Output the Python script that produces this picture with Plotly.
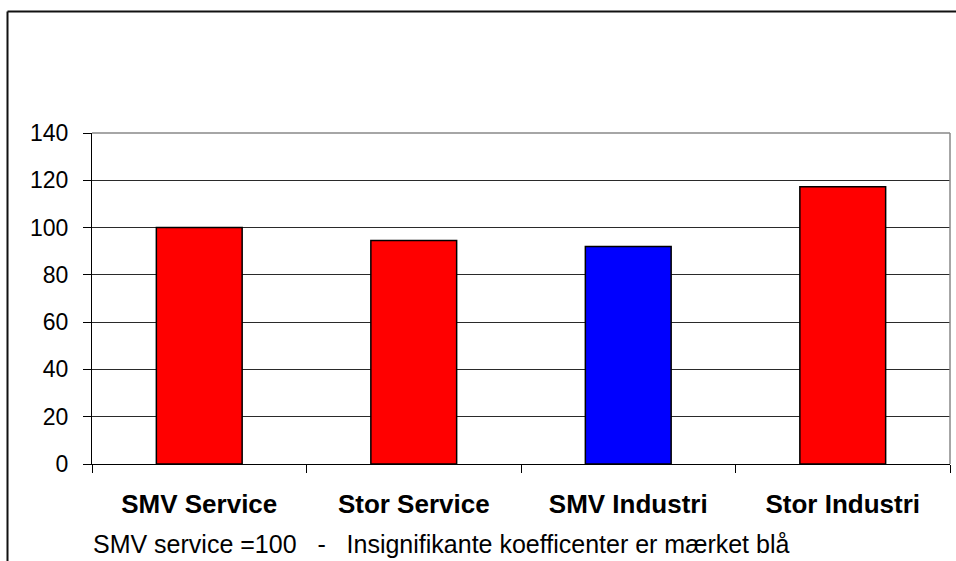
import plotly.graph_objects as go

# Index values per firm type (SMV service = 100)
categories = ["SMV Service", "Stor Service", "SMV Industri", "Stor Industri"]
values = [100, 94.5, 92, 117.3]
bar_colors = ["#FF0000", "#FF0000", "#0000FF", "#FF0000"]
y_ticks = [0, 20, 40, 60, 80, 100, 120, 140]
footnote = "SMV service =100   -   Insignifikante koefficenter er mærket blå"

W, H = 956, 561
M_L, M_R, M_T, M_B = 92, 6, 133, 97
plot_w = W - M_L - M_R
plot_h = H - M_T - M_B


def px_x(x):
    return (x - M_L) / plot_w


def px_y(y):
    return (H - M_B - y) / plot_h


fig = go.Figure(
    go.Bar(
        x=categories,
        y=values,
        width=0.4,
        marker=dict(color=bar_colors, line=dict(color="#000000", width=1.5)),
        hoverinfo="x+y",
    )
)

fig.update_layout(
    width=W,
    height=H,
    margin=dict(l=M_L, r=M_R, t=M_T, b=M_B, pad=0),
    paper_bgcolor="#FFFFFF",
    plot_bgcolor="#FFFFFF",
    showlegend=False,
    font=dict(family="Liberation Sans, Arial, sans-serif", color="#000000"),
    xaxis=dict(
        type="category",
        tickson="boundaries",
        ticks="outside",
        ticklen=8,
        tickcolor="#000000",
        tickwidth=1,
        showline=True,
        linecolor="#000000",
        linewidth=1,
        showgrid=False,
        tickfont=dict(size=26, family="Liberation Sans, Arial, sans-serif", weight="bold"),
        ticklabelstandoff=17,
    ),
    yaxis=dict(
        range=[0, 140],
        tickvals=y_ticks,
        ticks="outside",
        ticklen=8,
        tickcolor="#000000",
        showline=True,
        linecolor="#000000",
        linewidth=1,
        showgrid=True,
        gridcolor="#2a2a2a",
        gridwidth=1,
        zeroline=False,
        tickfont=dict(size=23),
        ticklabelstandoff=10,
    ),
    shapes=[
        # gray frame of the plot area (top and right edges)
        dict(type="line", xref="paper", yref="paper", x0=0, x1=1, y0=1, y1=1,
             line=dict(color="#888888", width=1.5), layer="above"),
        dict(type="line", xref="paper", yref="paper", x0=1, x1=1, y0=0, y1=1,
             line=dict(color="#888888", width=1.5), layer="above"),
        # outer chart frame
        dict(type="line", xref="paper", yref="paper",
             x0=px_x(7.5), x1=px_x(960), y0=px_y(11.5), y1=px_y(11.5),
             line=dict(color="#111111", width=2)),
        dict(type="line", xref="paper", yref="paper",
             x0=px_x(7.5), x1=px_x(7.5), y0=px_y(11.5), y1=px_y(565),
             line=dict(color="#111111", width=2)),
    ],
    annotations=[
        dict(text=footnote, xref="paper", yref="paper",
             x=px_x(91), y=px_y(544), xanchor="left", yanchor="middle",
             showarrow=False, font=dict(size=25, color="#000000")),
    ],
)

fig.write_html("out.html")
